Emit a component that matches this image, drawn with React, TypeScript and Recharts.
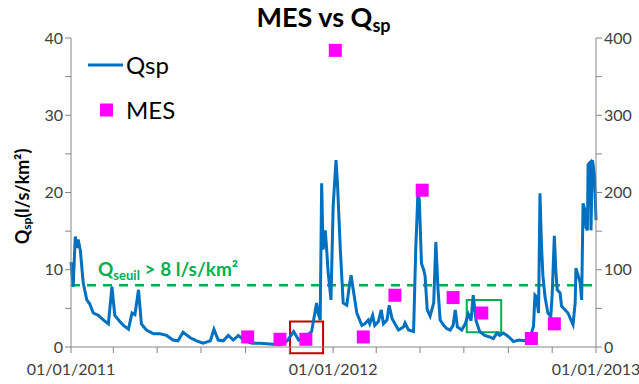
import React from "react";
import {
  ComposedChart,
  Line,
  Scatter,
  XAxis,
  YAxis,
  ReferenceLine,
  ReferenceArea,
  Legend,
} from "recharts";

// days since 01/01/2011
const qspDays = [
  0, 3, 6, 8, 10, 13, 17, 22, 26, 31, 38, 45, 52, 57, 61, 68, 73, 80, 85, 89,
  94, 98, 105, 115, 124, 133, 142, 149, 156, 166, 175, 184, 194, 199, 205, 212,
  219, 226, 233, 242, 252, 263, 277, 291, 301, 310, 317, 323, 335, 342, 344,
  347, 349, 351, 354, 356, 358, 362, 365, 369, 371, 375, 379, 384, 388, 390,
  393, 398, 405, 409, 414, 416, 420, 423, 428, 432, 435, 440, 443, 447, 451,
  456, 463, 465, 470, 477, 480, 483, 485, 488, 491, 493, 496, 500, 505, 508,
  511, 514, 519, 523, 528, 532, 535, 538, 544, 549, 553, 557, 560, 564, 569,
  576, 583, 588, 593, 597, 602, 607, 611, 616, 623, 632, 639, 644, 646, 648,
  651, 653, 655, 657, 660, 664, 668, 670, 673, 675, 677, 681, 683, 688, 692,
  697, 699, 702, 703, 706, 709, 711, 713, 716, 717, 719, 720, 723, 724, 726,
  729, 731,
];
const qspValues = [
  11.0, 7.8, 14.3, 12.8, 13.9, 12.5, 8.3, 6.1, 5.6, 4.4, 4.1, 3.5, 3.0, 7.8,
  4.1, 3.3, 2.8, 2.3, 4.4, 4.2, 7.4, 3.0, 2.2, 1.7, 1.7, 1.5, 0.9, 0.8, 1.9,
  1.2, 0.8, 0.5, 0.8, 2.3, 0.9, 0.8, 1.5, 0.9, 1.5, 0.8, 0.5, 0.5, 0.4, 0.3,
  0.8, 2.0, 0.9, 1.1, 2.0, 5.7, 4.4, 3.5, 21.2, 12.6, 15.1, 12.6, 9.7, 6.1,
  18.2, 24.2, 21.2, 12.6, 5.7, 5.4, 8.2, 9.3, 7.4, 4.4, 2.8, 3.0, 3.5, 3.0,
  4.1, 2.8, 3.3, 4.8, 3.0, 3.5, 5.4, 3.7, 3.0, 2.2, 2.6, 3.1, 2.2, 2.0, 12.6,
  19.9, 19.0, 10.8, 10.0, 9.2, 4.8, 4.0, 5.7, 13.6, 7.5, 3.5, 2.8, 2.4, 2.2,
  2.8, 4.8, 2.6, 2.2, 3.0, 4.3, 3.4, 6.7, 3.4, 2.0, 1.5, 1.3, 1.1, 1.8, 1.5,
  1.8, 1.5, 1.2, 0.7, 0.9, 0.8, 1.1, 2.7, 6.7, 6.5, 4.4, 19.9, 13.4, 9.3, 6.5,
  4.4, 3.9, 6.8, 14.4, 10.0, 7.4, 7.0, 5.3, 4.8, 4.4, 3.3, 2.9, 5.7, 10.2, 9.3,
  8.3, 6.1, 18.6, 17.6, 15.5, 15.1, 23.6, 23.9, 15.1, 24.2, 22.2, 16.4,
];

const mesDays = [246, 291, 327, 368, 407, 451, 489, 532, 572, 641, 673];
const mesValues = [13, 10, 10, 384, 13, 67, 203, 64, 44, 11, 30];

const xTicks = [0, 59, 120, 181, 243, 304, 365, 425, 486, 547, 609, 670, 731];
const xTickLabels: Record<number, string> = {
  0: "01/01/2011",
  365: "01/01/2012",
  731: "01/01/2013",
};
const leftTicks = [0, 5, 10, 15, 20, 25, 30, 35, 40];
const rightTicks = [0, 50, 100, 150, 200, 250, 300, 350, 400];
const legendOrder = ["Qsp", "MES"];

const QSEUIL = 8;

const FONT = "Lato, 'Open Sans', sans-serif";
const AXIS = "#868686";
const TICK = { fill: "#404040", fontSize: 16, fontFamily: FONT };

const qspData = qspDays.map((d, i) => ({ day: d, qsp: qspValues[i] }));
const mesData = mesDays.map((d, i) => ({ day: d, mes: mesValues[i] }));

function MesSquare(props: any) {
  const { cx, cy } = props;
  return <rect x={cx - 6.5} y={cy - 6.5} width={13} height={13} fill="#FF00FF" />;
}

function YTitle(props: any) {
  const vb = props.viewBox;
  const cy = vb.y + vb.height / 2 + 4;
  return (
    <text
      x={22}
      y={cy}
      transform={`rotate(-90 22 ${cy})`}
      textAnchor="middle"
      dominantBaseline="central"
      fontFamily={FONT}
      fontWeight="bold"
      fontSize={18}
      fill="#000"
    >
      Q
      <tspan fontSize={12} dy={4}>sp</tspan>
      <tspan dy={-4}>(l/s/km²)</tspan>
    </text>
  );
}

function SeuilLabel(props: any) {
  const vb = props.viewBox;
  return (
    <text
      x={vb.x + 27}
      y={vb.y - 9}
      fontFamily={FONT}
      fontWeight="bold"
      fontSize={19}
      fill="#00B050"
    >
      Q
      <tspan fontSize={13} dy={4}>seuil</tspan>
      <tspan dy={-4}> &gt; 8 l/s/km²</tspan>
    </text>
  );
}

function LegendBox(props: any) {
  const items = [...(props.payload || [])].sort(
    (a: any, b: any) => legendOrder.indexOf(a.value) - legendOrder.indexOf(b.value)
  );
  return (
    <div style={{ fontFamily: FONT, fontSize: 24, color: "#000" }}>
      {items.map((it: any) => (
        <div key={it.value} style={{ display: "flex", alignItems: "center", height: 45 }}>
          <svg width={40} height={20}>
            {it.value === "Qsp" ? (
              <line x1={2} y1={10} x2={37} y2={10} stroke="#0070C0" strokeWidth={3} />
            ) : (
              <rect x={14} y={3.5} width={13} height={13} fill="#FF00FF" />
            )}
          </svg>
          <span>{it.value}</span>
        </div>
      ))}
    </div>
  );
}

export default function App() {
  return (
    <div style={{ position: "absolute", left: 0, top: 0, width: 639, height: 384, background: "#fff" }}>
      <div
        style={{
          position: "absolute",
          left: 4,
          top: 2,
          width: 639,
          textAlign: "center",
          fontFamily: FONT,
          fontWeight: "bold",
          fontSize: 27,
          lineHeight: "30px",
          zIndex: 2,
        }}
      >
        MES vs Q<sub style={{ fontSize: 18, verticalAlign: "-5px" }}>sp</sub>
      </div>
      <ComposedChart width={639} height={384} margin={{ top: 38, right: 0, bottom: 0, left: 0 }}>
        <XAxis
          dataKey="day"
          type="number"
          domain={[0, 731]}
          ticks={xTicks}
          tickFormatter={(v: number) => xTickLabels[v] ?? ""}
          stroke={AXIS}
          tick={TICK}
          tickSize={6}
          height={37}
          dy={9}
          interval={0}
        />
        <YAxis
          yAxisId="left"
          domain={[0, 40]}
          ticks={leftTicks}
          tickFormatter={(v: number) => (v % 10 === 0 ? String(v) : "")}
          stroke={AXIS}
          tick={TICK}
          tickSize={6}
          width={71}
          interval={0}
          label={{ content: YTitle }}
        />
        <YAxis
          yAxisId="right"
          orientation="right"
          domain={[0, 400]}
          ticks={rightTicks}
          tickFormatter={(v: number) => (v % 100 === 0 ? String(v) : "")}
          stroke={AXIS}
          tick={TICK}
          tickSize={6}
          width={43}
          interval={0}
        />
        <ReferenceLine
          yAxisId="left"
          y={QSEUIL}
          stroke="#00B050"
          strokeWidth={2.5}
          strokeDasharray="9 7"
          label={{ content: SeuilLabel }}
        />
        <Line
          yAxisId="left"
          data={qspData}
          dataKey="qsp"
          name="Qsp"
          type="linear"
          stroke="#0070C0"
          strokeWidth={3}
          dot={false}
          isAnimationActive={false}
          legendType="line"
        />
        <Scatter
          yAxisId="right"
          data={mesData}
          dataKey="mes"
          name="MES"
          shape={MesSquare}
          isAnimationActive={false}
          legendType="square"
        />
        <ReferenceArea
          yAxisId="left"
          x1={305}
          x2={351}
          y1={-0.8}
          y2={3.3}
          ifOverflow="visible"
          fill="none"
          stroke="#C00000"
          strokeWidth={2}
        />
        <ReferenceArea
          yAxisId="left"
          x1={551}
          x2={599}
          y1={1.9}
          y2={6.1}
          ifOverflow="visible"
          fill="none"
          stroke="#00B050"
          strokeWidth={2}
        />
        <Legend
          layout="horizontal"
          verticalAlign="middle"
          align="center"
          content={LegendBox}
          wrapperStyle={{ position: "absolute", left: 86, top: 42, width: 120 }}
        />
      </ComposedChart>
    </div>
  );
}
